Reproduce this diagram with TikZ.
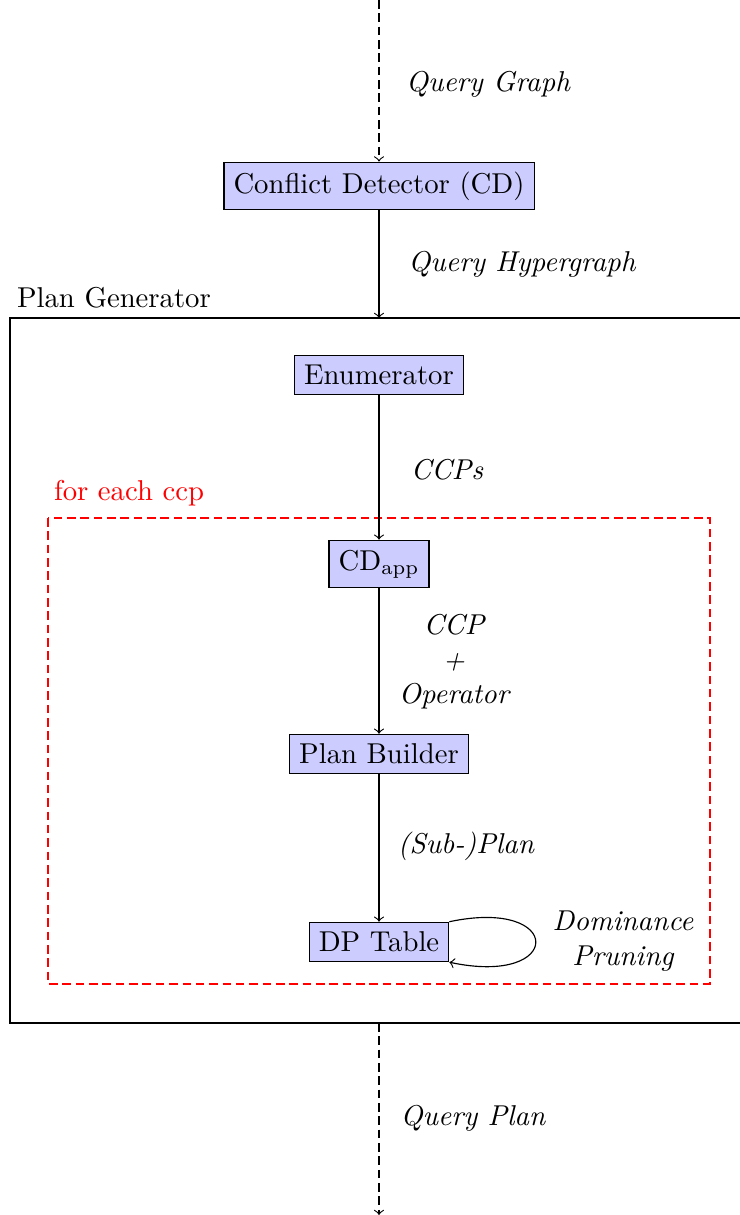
\documentclass[tikz,border=0pt]{standalone}
\begin{document}
\begin{tikzpicture}[
  block/.style={draw, fill=blue!20, inner sep=3.33pt},
  flow/.style={->},
  shortdash/.style={dash pattern=on 3pt off 1.65pt},
  io/.style={->, shortdash},
  lbl/.style={font=\itshape, align=center},
  group/.style={draw},
  ccpgroup/.style={draw=red, shortdash},
]
\clip (0,0) rectangle (9.063,-14.881);

% incoming and outgoing ends
\coordinate (in)  at (4.642,0);
\coordinate (out) at (4.642,-14.881);

% outer plan generator frame
\coordinate (pgnw) at (0.122,-3.895);
\coordinate (pgse) at (9.6,-12.529);
\coordinate (pgtop) at (4.642,-3.895);
\coordinate (pgbot) at (4.642,-12.529);
\draw[group] (pgnw) rectangle (pgse);
\node[anchor=center] (pglabel) at (1.396,-3.650) {Plan Generator};

% per-ccp loop frame
\coordinate (ccpnw) at (0.588,-6.344);
\coordinate (ccpse) at (8.696,-12.051);
\draw[ccpgroup] (ccpnw) rectangle (ccpse);
\node[text=red] (ccplabel) at (1.580,-6.038) {for each ccp};

% components
\node[block] (cd)   at (4.642,-2.278)  {Conflict Detector (CD)};
\node[block] (enum) at (4.642,-4.593)  {Enumerator};
\node[block] (cdapp) at (4.642,-6.908) {CD$_\mathrm{app}$};
\node[block] (pb)   at (4.642,-9.235)  {Plan Builder};
\node[block] (dp)   at (4.642,-11.537) {DP Table};

% data flow
\draw[io]   (in) -- (cd.north);
\draw[flow] (cd.south) -- (pgtop);
\draw[flow] (enum.south) -- (cdapp.north);
\draw[flow] (cdapp.south) -- (pb.north);
\draw[flow] (pb.south) -- (dp.north);
\draw[flow] (dp.north east) .. controls +(1.41,0.3) and +(1.41,-0.3) .. (dp.south east);
\draw[io]   (pgbot) -- (out);

% edge labels
\node[lbl] (lqg)  at (5.977,-1.029)  {Query Graph};
\node[lbl] (lqh)  at (6.393,-3.233)  {Query Hypergraph};
\node[lbl] (lccps) at (5.475,-5.756) {CCPs};
\node[lbl, text depth=0pt] (lccp) at (5.560,-8.071) {CCP\\+\\Operator};
\node[lbl] (lsub) at (5.707,-10.361) {(Sub-)Plan};
\node[lbl] (ldom) at (7.630,-11.525) {Dominance\\Pruning};
\node[lbl] (lqp)  at (5.793,-13.693) {Query Plan};
\end{tikzpicture}
\end{document}
